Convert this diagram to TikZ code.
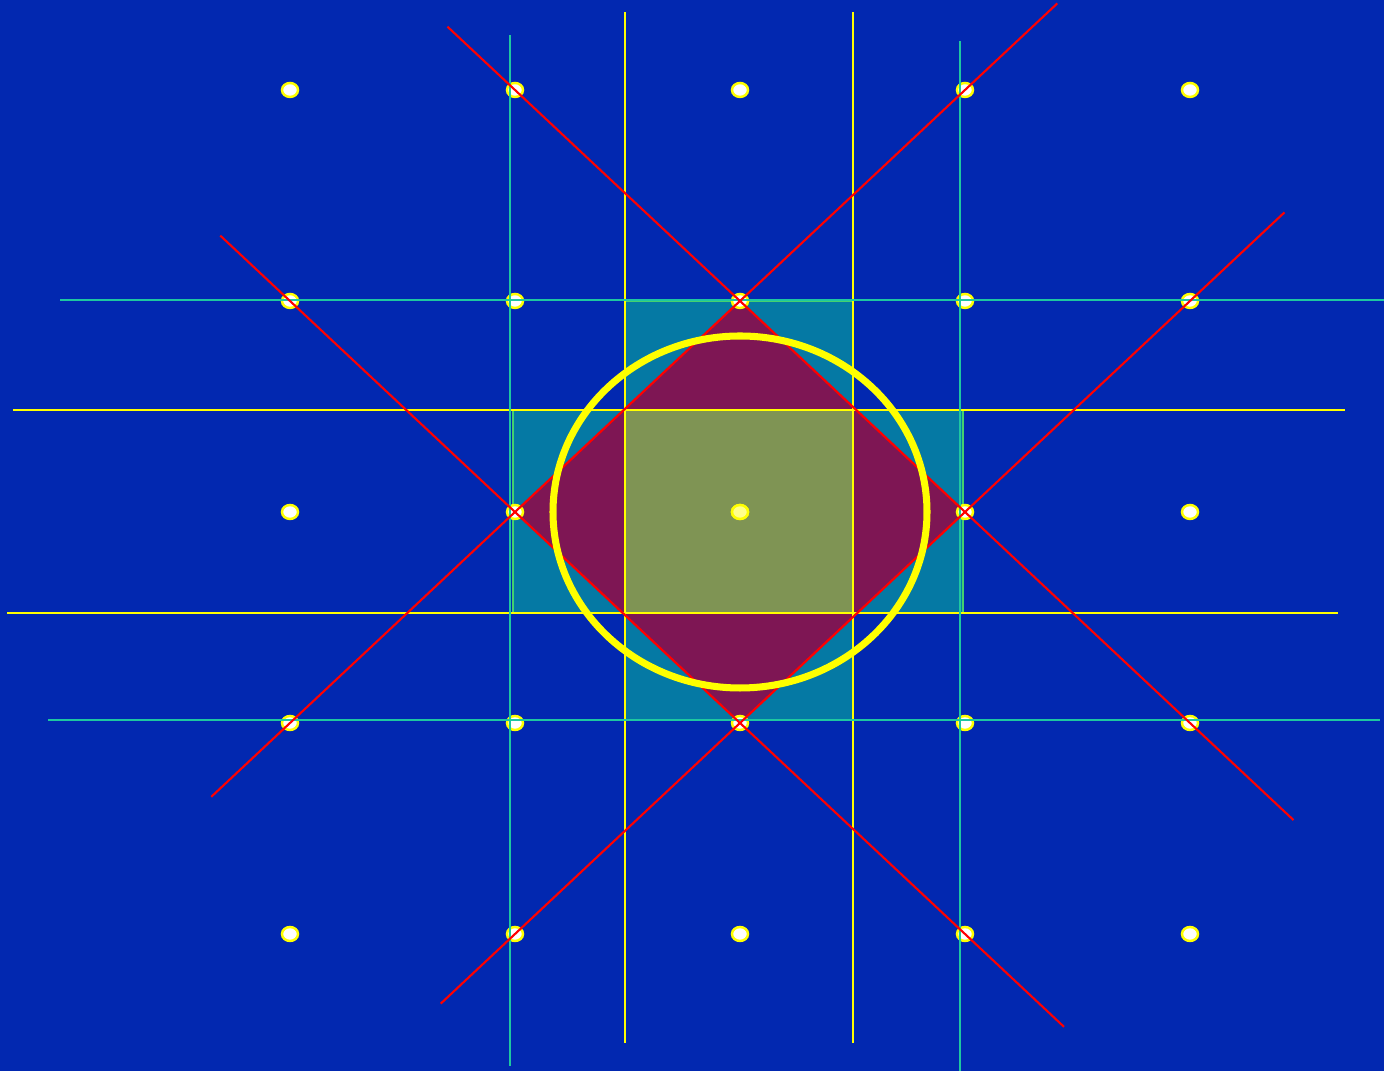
\documentclass[tikz,border=0pt]{standalone}
\usetikzlibrary{calc}
\definecolor{bzBack}{HTML}{0228B0}
\definecolor{bzTeal}{HTML}{0579A4}
\definecolor{bzWine}{HTML}{7E1654}
\definecolor{bzOlive}{HTML}{7F9454}
\definecolor{bzCyan}{HTML}{1EC8A0}
\definecolor{bzEdge}{HTML}{44D070}
\definecolor{bzRed}{HTML}{FF0000}
\definecolor{bzYellow}{HTML}{FFFF00}
\definecolor{bzPale}{HTML}{FFFF8C}
\tikzset{
  latticept/.style={draw=bzYellow, line width=0.7pt, fill=white},
  centerpt/.style={latticept, fill=bzPale},
  zoneone/.style={fill=bzOlive, draw=bzYellow, line width=0.4pt},
  zonetwo/.style={fill=bzWine, draw=bzRed, line width=0.4pt},
  zonethree/.style={fill=bzTeal, draw=bzEdge, line width=0.4pt},
  braggline/.style={draw=bzRed, line width=0.6pt},
  yline/.style={draw=bzYellow, line width=0.6pt},
  cline/.style={draw=bzCyan, line width=0.6pt},
  sphere/.style={draw=bzYellow, line width=2pt}
}
\begin{document}
\begin{tikzpicture}[x=0.01cm,y=-0.01cm]
  \fill[bzBack] (0,0) rectangle (1384,1071);
  \useasboundingbox (0,0) rectangle (1384,1071);

  % lattice points
  \foreach \i in {0,...,4} {
    \foreach \j in {0,...,4} {
      \coordinate (p-\i-\j) at ({290+225*\i},{90+211*\j});
    }
  }

  % zones
  \path[zonethree] (513,410) rectangle (963,613);
  \path[zonethree] (625,301) rectangle (853,720);
  \path[zonetwo] (p-2-1) -- (p-3-2) -- (p-2-3) -- (p-1-2) -- cycle;
  \path[zoneone] (625,410) rectangle (853,613);

  \foreach \i in {0,...,4} {
    \foreach \j in {0,...,4} {
      \fill[latticept] (p-\i-\j) ellipse (8 and 7);
    }
  }
  \fill[centerpt] (p-2-2) ellipse (8 and 7);

  % yellow lines
  \draw[yline] (13,410) -- (1345,410);
  \draw[yline] (7,613) -- (1338,613);
  \draw[yline] (625,12) -- (625,1043);
  \draw[yline] (853,12) -- (853,1043);

  % cyan lines
  \draw[cline] (60,300) -- (1384,300);
  \draw[cline] (48,720) -- (1380,720);
  \draw[cline] (510,35) -- (510,1066);
  \draw[cline] (960,41) -- (960,1071);

  % red lines
  \draw[braggline] ($(p-2-1)!-1.3!(p-3-2)$) -- ($(p-2-1)!2.46!(p-3-2)$);
  \draw[braggline] ($(p-1-2)!-1.31!(p-2-3)$) -- ($(p-1-2)!2.44!(p-2-3)$);
  \draw[braggline] ($(p-2-1)!-1.41!(p-1-2)$) -- ($(p-2-1)!2.35!(p-1-2)$);
  \draw[braggline] ($(p-3-2)!-1.42!(p-2-3)$) -- ($(p-3-2)!2.33!(p-2-3)$);

  \draw[sphere] (p-2-2) ellipse (187 and 176);
\end{tikzpicture}
\end{document}
